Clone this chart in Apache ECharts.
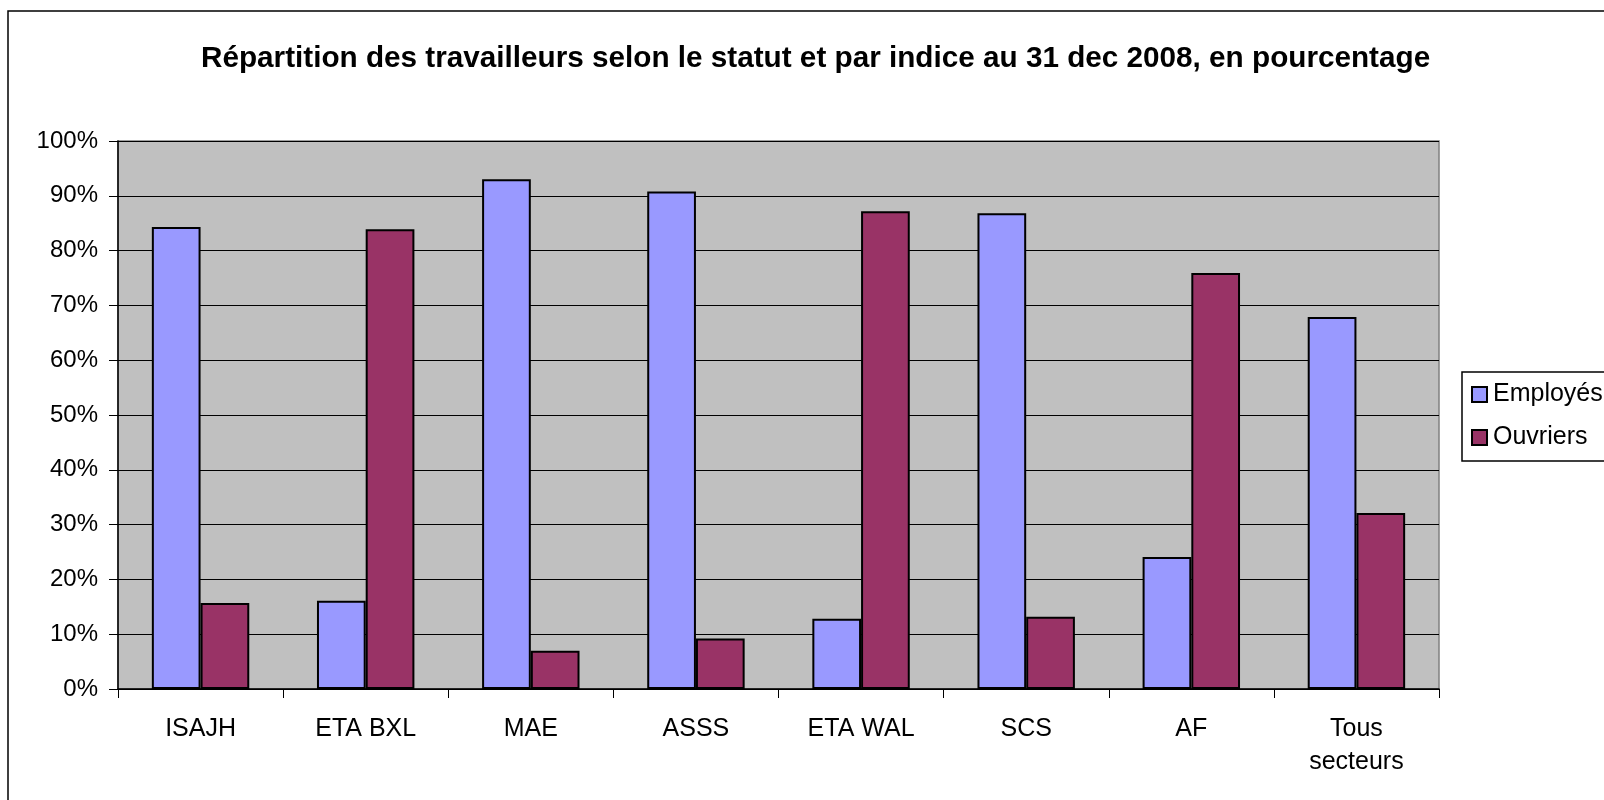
<!DOCTYPE html>
<html>
<head>
<meta charset="utf-8">
<script src="https://cdn.jsdelivr.net/npm/echarts@6/dist/echarts.min.js"></script>
<style>
  html, body { margin: 0; padding: 0; background: #fff; }
  #chart { width: 1604px; height: 800px; }
</style>
</head>
<body>
<div id="chart"></div>
<script>
// données
const categories = ['ISAJH', 'ETA BXL', 'MAE', 'ASSS', 'ETA WAL', 'SCS', 'AF', 'Tous\nsecteurs']
const employes = [84.3, 16.1, 93.0, 90.8, 12.8, 86.8, 24.1, 67.9]
const ouvriers = [15.7, 83.9, 7.0, 9.2, 87.2, 13.2, 75.9, 32.1]

const font = 'Liberation Sans, Arial, sans-serif'

const chart = echarts.init(document.getElementById('chart'))

const option = {
  animation: false,
  backgroundColor: '#fff',
  textStyle: { fontFamily: font, color: '#000' },
  title: {
    text: 'Répartition des travailleurs selon le statut et par indice au 31 dec 2008, en pourcentage',
    left: 201,
    top: 44,
    padding: 0,
    textStyle: { fontFamily: font, fontSize: 29.7, fontWeight: 'bold', color: '#000' }
  },
  legend: {
    orient: 'vertical',
    left: 1462,
    top: 372,
    padding: [10, 20, 11, 9],
    itemGap: 18,
    itemWidth: 15,
    itemHeight: 15,
    icon: 'rect',
    backgroundColor: '#fff',
    borderColor: '#000',
    borderWidth: 1.5,
    borderRadius: 0,
    textStyle: { fontFamily: font, fontSize: 25, color: '#000', padding: [0, 0, 0, 1] },
    data: ['Employés', 'Ouvriers']
  },
  grid: {
    left: 118,
    top: 141,
    right: 165,
    bottom: 111,
    show: true,
    backgroundColor: '#C0C0C0',
    borderColor: '#808080',
    borderWidth: 1.5
  },
  xAxis: {
    type: 'category',
    data: categories,
    axisLine: { lineStyle: { color: '#000', width: 1.5 } },
    axisTick: { show: true, inside: false, length: 9, alignWithLabel: false, lineStyle: { color: '#000' } },
    axisLabel: { fontFamily: font, fontSize: 25, color: '#000', margin: 24, lineHeight: 33, interval: 0 },
    splitLine: { show: false }
  },
  yAxis: {
    type: 'value',
    min: 0,
    max: 100,
    interval: 10,
    axisLine: { show: true, lineStyle: { color: '#000', width: 1.5 } },
    axisTick: { show: true, length: 9, lineStyle: { color: '#000' } },
    axisLabel: { fontFamily: font, fontSize: 24, color: '#000', margin: 20, formatter: '{value}%' },
    splitLine: { show: true, lineStyle: { color: '#000', width: 1.2 } }
  },
  series: [
    {
      name: 'Employés',
      type: 'bar',
      data: employes,
      barGap: '0%',
      barCategoryGap: '41%',
      itemStyle: { color: '#9999FF', borderColor: '#000', borderWidth: 2 }
    },
    {
      name: 'Ouvriers',
      type: 'bar',
      data: ouvriers,
      barGap: '0%',
      barCategoryGap: '41%',
      itemStyle: { color: '#993366', borderColor: '#000', borderWidth: 2 }
    }
  ],
  graphic: [
    {
      type: 'rect',
      silent: true,
      z: -1,
      shape: { x: 8, y: 11, width: 1700, height: 900 },
      style: { fill: 'none', stroke: '#000', lineWidth: 1.5 }
    }
  ]
}

chart.setOption(option)
</script>
</body>
</html>
